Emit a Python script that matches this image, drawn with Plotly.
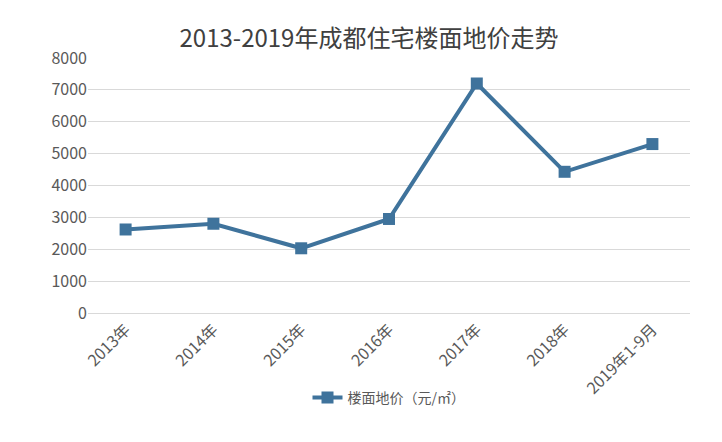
import plotly.graph_objects as go

years = ['2013年', '2014年', '2015年', '2016年', '2017年', '2018年', '2019年1-9月']
price = [2620, 2800, 2030, 2950, 7200, 4430, 5300]

fig = go.Figure()
fig.add_trace(go.Scatter(
    x=years, y=price, mode='lines+markers', name='楼面地价（元/㎡）',
    line=dict(color='#3f739c', width=4),
    marker=dict(symbol='square', size=12, color='#3f739c')
))

fig.update_layout(
    width=722, height=442,
    title=dict(text='2013-2019年成都住宅楼面地价走势', x=0.5, y=0.95, xanchor='center',
               font=dict(size=24, color='#404040')),
    font=dict(family='Noto Sans CJK SC', size=16, color='#595959'),
    plot_bgcolor='white', paper_bgcolor='white',
    margin=dict(l=80, r=40, t=50, b=137),
    xaxis=dict(tickangle=-45, showgrid=False, showline=True, linecolor='#d9d9d9'),
    yaxis=dict(range=[0, 8000], dtick=1000, gridcolor='#d9d9d9', zeroline=False),
    showlegend=True,
    legend=dict(orientation='h', x=0.5, xanchor='center', y=-0.27, font=dict(size=14)),
)
fig.write_html('out.html')
